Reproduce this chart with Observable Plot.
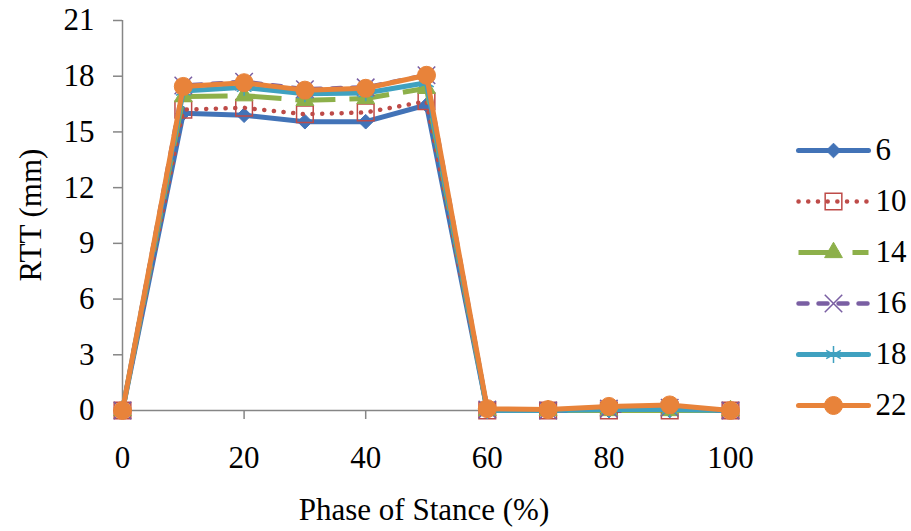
<!DOCTYPE html>
<html>
<head>
<meta charset="utf-8">
<script src="https://cdn.jsdelivr.net/npm/d3@7"></script>
<script src="https://cdn.jsdelivr.net/npm/@observablehq/plot@0.6"></script>
<style>
  html, body { margin: 0; padding: 0; background: #fff; }
  #wrap { position: relative; width: 911px; height: 531px; font-family: "Liberation Serif", serif; }
  #legend { position: absolute; left: 780px; top: 120px; }
  .title { position: absolute; font-size: 31px; line-height: 31px; white-space: nowrap; color: #000; }
  #xtitle { left: 0; width: 848px; top: 494px; text-align: center; }
  #ytitle { left: 30px; top: 215px; transform: translate(-50%, -50%) rotate(-90deg); }
</style>
</head>
<body>
<div id="wrap">
  <div id="chart"></div>
  <div id="legend"></div>
  <div id="xtitle" class="title"></div>
  <div id="ytitle" class="title"></div>
</div>
<script>
// ---- data ----
const phase = [0, 10, 20, 30, 40, 50, 60, 70, 80, 90, 100];
const seriesNames = ["6", "10", "14", "16", "18", "22"];
const rtt6  = [0, 16.0, 15.9, 15.55, 15.55, 16.45, 0, 0, 0, 0, 0];
const rtt10 = [0, 16.2, 16.3, 15.95, 16.05, 16.65, 0, 0, 0, 0, 0];
const rtt14 = [0, 16.9, 16.95, 16.7, 16.8, 17.35, 0, 0, 0, 0, 0];
const rtt16 = [0, 17.5, 17.7, 17.3, 17.4, 18.05, 0.05, 0, 0.1, 0.15, 0];
const rtt18 = [0, 17.2, 17.4, 17.05, 17.1, 17.65, 0, 0, 0.05, 0.05, 0];
const rtt22 = [0, 17.45, 17.65, 17.25, 17.35, 18.05, 0.1, 0.05, 0.22, 0.3, 0];
const xTicks = [0, 20, 40, 60, 80, 100];
const yTicks = [0, 3, 6, 9, 12, 15, 18, 21];
const xTitle = "Phase of Stance (%)";
const yTitle = "RTT (mm)";

// ---- styles ----
const values = [rtt6, rtt10, rtt14, rtt16, rtt18, rtt22];
const styles = [
  {color: "#4273B7", width: 5,   dash: null,      cap: "round", symbol: "diamond2", r: 6.6, fill: "#4273B7", msw: 1},
  {color: "#BE4B48", width: 4.5, dash: "0.1,9.6", cap: "round", symbol: "square",   r: 9.4, fill: "none",    msw: 1.5},
  {color: "#8DB04A", width: 5,   dash: "40,14",   cap: "butt",  symbol: "triangle", r: 6.6, fill: "#8DB04A", msw: 1},
  {color: "#7A5FA3", width: 4.5, dash: "9,11",    cap: "round", symbol: "times",    r: 8,   fill: "none",    msw: 1.5},
  {color: "#3FA1C0", width: 5,   dash: null,      cap: "round", symbol: "asterisk", r: 8,   fill: "none",    msw: 1.5},
  {color: "#E8833A", width: 5,   dash: null,      cap: "round", symbol: "circle",   r: 9,   fill: "#E8833A", msw: 1}
];

const rowsFor = (i) => phase.map((p, j) => ({x: p, y: values[i][j], s: seriesNames[i]}));

const font = "Liberation Serif";
const fs = 31;
const axisGray = "#868686";

document.getElementById("xtitle").textContent = xTitle;
document.getElementById("ytitle").textContent = yTitle;

const seriesMarks = seriesNames.flatMap((name, i) => {
  const st = styles[i];
  const rows = rowsFor(i);
  return [
    Plot.line(rows, {x: "x", y: "y", stroke: st.color, strokeWidth: st.width,
      strokeDasharray: st.dash, strokeLinecap: st.cap, strokeLinejoin: "round"}),
    Plot.dot(rows, {x: "x", y: "y", symbol: () => st.symbol, r: st.r,
      fill: st.fill, stroke: st.color, strokeWidth: st.msw})
  ];
});

const chart = Plot.plot({
  width: 911,
  height: 531,
  marginLeft: 122,
  marginRight: 181,
  marginTop: 20,
  marginBottom: 121,
  style: {fontFamily: font, fontSize: fs + "px"},
  x: {domain: [0, 100]},
  y: {domain: [0, 21]},
  marks: [
    Plot.axisY({ticks: yTicks, tickSize: 9, tickPadding: 19, stroke: axisGray, strokeWidth: 1.5,
      fill: "#000", fontSize: fs, fontFamily: font, label: null}),
    Plot.axisX({ticks: xTicks, tickSize: 9, tickPadding: 26, stroke: axisGray, strokeWidth: 1.5,
      fill: "#000", fontSize: fs, fontFamily: font, label: null}),
    Plot.ruleX([0], {stroke: axisGray, strokeWidth: 1.5}),
    Plot.ruleY([0], {stroke: axisGray, strokeWidth: 1.5}),
    ...seriesMarks
  ]
});
document.getElementById("chart").appendChild(chart);

// ---- legend ----
const legendMarks = seriesNames.flatMap((name, i) => {
  const st = styles[i];
  const rows = [{x: 0, s: name}, {x: 1, s: name}];
  return [
    Plot.line(rows, {x: "x", y: "s", stroke: st.color, strokeWidth: st.width,
      strokeDasharray: st.dash, strokeLinecap: st.cap}),
    Plot.dot([{x: 0.5, s: name}], {x: "x", y: "s", symbol: () => st.symbol, r: st.r,
      fill: st.fill, stroke: st.color, strokeWidth: st.msw})
  ];
});
const legend = Plot.plot({
  width: 131,
  height: 310,
  margin: 0,
  style: {fontFamily: font, fontSize: fs + "px", background: "transparent"},
  x: {domain: [0, 1], range: [18, 88], axis: null},
  y: {type: "point", domain: seriesNames, range: [30, 285], padding: 0, axis: null},
  marks: [
    ...legendMarks,
    Plot.text(seriesNames, {x: () => 1, y: (d) => d, text: (d) => d, dx: 7, textAnchor: "start",
      fontSize: fs, fontFamily: font, fill: "#000"})
  ]
});
document.getElementById("legend").appendChild(legend);
</script>
</body>
</html>
